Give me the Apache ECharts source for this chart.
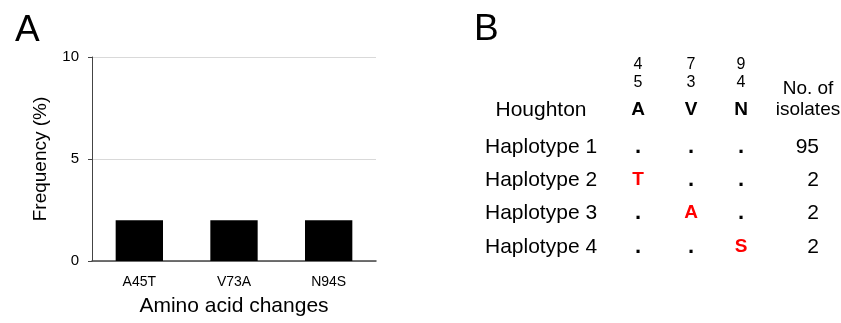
<!DOCTYPE html>
<html>
<head>
<meta charset="utf-8">
<script src="https://cdn.jsdelivr.net/npm/echarts@6/dist/echarts.min.js"></script>
<style>
  html, body {margin: 0; padding: 0; background: #fff;}
  #chart {width: 841px; height: 323px;}
</style>
</head>
<body>
<div id="chart"></div>
<script>
// panel A data
const categories = ['A45T', 'V73A', 'N94S'];
const frequency = [2, 2, 2];
const yTicks = [0, 5, 10];

// panel B data
const positions = ['45', '73', '94'];
const reference = ['A', 'V', 'N'];
const haplotypes = ['Haplotype 1', 'Haplotype 2', 'Haplotype 3', 'Haplotype 4'];
const residues = [
  ['.', '.', '.'],
  ['T', '.', '.'],
  ['.', 'A', '.'],
  ['.', '.', 'S'],
];
const isolates = [95, 2, 2, 2];

const font = '"Liberation Sans", Arial, sans-serif';
const colX = [638, 691, 741];
const rowY = [147, 180, 213, 247];

const txt = (x, y, text, size, opts) => Object.assign({
  type: 'text', x: x, y: y,
  style: Object.assign({text: text, font: size + 'px ' + font, fill: '#000', align: 'center', verticalAlign: 'middle'}, opts || {})
});

const graphic = [
  {type: 'text', left: 15, top: 12, style: {text: 'A', font: '37px ' + font, fill: '#000'}},
  {type: 'text', left: 474, top: 11, style: {text: 'B', font: '37px ' + font, fill: '#000'}},
  txt(541, 110, 'Houghton', 21),
  txt(808, 89, 'No. of', 19),
  txt(808, 110, 'isolates', 19),
];

positions.forEach((p, i) => {
  graphic.push(txt(colX[i], 65, p[0], 16));
  graphic.push(txt(colX[i], 83, p[1], 16));
  graphic.push(txt(colX[i], 110, reference[i], 19, {font: 'bold 19px ' + font}));
});

haplotypes.forEach((h, r) => {
  graphic.push(txt(485, rowY[r], h, 21, {align: 'left'}));
  residues[r].forEach((c, i) => {
    const changed = c !== '.';
    graphic.push(txt(colX[i], rowY[r], c, 0, {
      font: 'bold ' + (changed ? 19 : 22) + 'px ' + font,
      fill: changed ? '#ff0000' : '#000'
    }));
  });
  graphic.push(txt(819, rowY[r], String(isolates[r]), 21, {align: 'right'}));
});

const chart = echarts.init(document.getElementById('chart'));
chart.setOption({
  animation: false,
  textStyle: {fontFamily: font},
  grid: {left: 92, top: 57, right: 465, bottom: 62},
  xAxis: {
    type: 'category',
    data: categories,
    name: 'Amino acid changes',
    nameLocation: 'middle',
    nameGap: 35,
    nameTextStyle: {fontSize: 21, color: '#000'},
    axisLine: {lineStyle: {color: '#444', width: 1.5}},
    axisTick: {show: false},
    axisLabel: {fontSize: 14, color: '#000', margin: 14},
  },
  yAxis: {
    type: 'value',
    min: yTicks[0],
    max: yTicks[yTicks.length - 1],
    interval: yTicks[1] - yTicks[0],
    name: 'Frequency (%)',
    nameLocation: 'middle',
    nameGap: 42,
    nameTextStyle: {fontSize: 19, color: '#000'},
    axisLine: {show: true, lineStyle: {color: '#444', width: 1}},
    axisTick: {show: true, length: 4, lineStyle: {color: '#444'}},
    axisLabel: {fontSize: 15, color: '#000', margin: 13},
    splitLine: {lineStyle: {color: '#d9d9d9'}},
  },
  series: [{
    type: 'bar',
    data: frequency,
    barWidth: '50%',
    itemStyle: {color: '#000'},
  }],
  graphic: graphic,
});
</script>
</body>
</html>
